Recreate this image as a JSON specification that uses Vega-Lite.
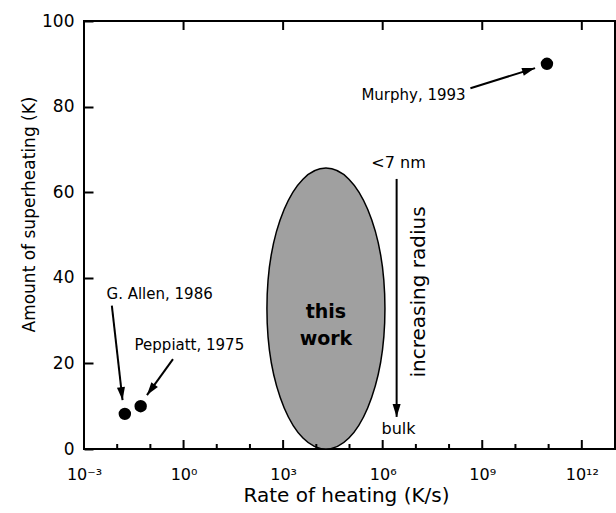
{
  "$schema": "https://vega.github.io/schema/vega-lite/v6.json",
  "width": 531,
  "height": 428,
  "autosize": {"type": "none"},
  "padding": {"left": 84, "top": 21, "right": 1, "bottom": 64},
  "background": "white",
  "config": {
    "font": "DejaVu Sans",
    "view": {"stroke": "black", "strokeWidth": 2},
    "axis": {
      "domain": false,
      "grid": false,
      "labelColor": "black",
      "titleColor": "black",
      "tickColor": "black",
      "tickWidth": 2,
      "labelFont": "DejaVu Sans",
      "titleFont": "DejaVu Sans",
      "titleFontWeight": "normal",
      "labelFlush": false
    }
  },
  "datasets": {
    "region": [{"rate": 19500, "superheat": 32.8}],
    "studies": [
      {"study": "G. Allen, 1986", "rate": 0.017, "superheat": 8.2},
      {"study": "Peppiatt, 1975", "rate": 0.051, "superheat": 10.0},
      {"study": "Murphy, 1993", "rate": 8.9e10, "superheat": 90.0}
    ],
    "majorTicks": [
      {"rate": 1}, {"rate": 1000}, {"rate": 1000000}, {"rate": 1000000000}, {"rate": 1000000000000}
    ],
    "minorTicks": [
      {"rate": 0.01}, {"rate": 0.1}, {"rate": 10}, {"rate": 100}, {"rate": 10000}, {"rate": 100000},
      {"rate": 10000000}, {"rate": 100000000}, {"rate": 10000000000}, {"rate": 100000000000}
    ],
    "arrows": [
      {"name": "Murphy", "rate": 4.4e8, "superheat": 84.3, "rate2": 3.9e10, "superheat2": 89.0},
      {"name": "Allen", "rate": 0.0069, "superheat": 33.5, "rate2": 0.0145, "superheat2": 11.4},
      {"name": "Peppiatt", "rate": 0.48, "superheat": 21.0, "rate2": 0.079, "superheat2": 12.6},
      {"name": "radius", "rate": 2.63e6, "superheat": 63.1, "rate2": 2.63e6, "superheat2": 7.5}
    ],
    "citations": [
      {"text": "Murphy, 1993", "rate": 8.5e6, "superheat": 82.7},
      {"text": "G. Allen, 1986", "rate": 0.19, "superheat": 36.2},
      {"text": "Peppiatt, 1975", "rate": 1.5, "superheat": 24.3}
    ],
    "notes": [
      {"text": "<7 nm", "rate": 3.0e6, "superheat": 66.8},
      {"text": "bulk", "rate": 3.0e6, "superheat": 4.7}
    ],
    "vertical": [{"text": "increasing radius", "rate": 1.2e7, "superheat": 36.7}],
    "bold": [{"text": "this work", "rate": 19500, "superheat": 32.1}]
  },
  "resolve": {"axis": {"x": "independent", "y": "independent"}},
  "layer": [
    {
      "data": {"name": "region"},
      "mark": {
        "type": "point",
        "shape": "M 0 -1 C 0.232 -1 0.42 -0.552 0.42 0 C 0.42 0.552 0.232 1 0 1 C -0.232 1 -0.42 0.552 -0.42 0 C -0.42 -0.552 -0.232 -1 0 -1 Z",
        "filled": true,
        "fill": "#a0a0a0",
        "stroke": "black",
        "strokeWidth": 1.5,
        "size": 78961,
        "opacity": 1
      },
      "encoding": {
        "x": {
          "field": "rate",
          "type": "quantitative",
          "scale": {"type": "log", "domain": [0.001, 1e13], "nice": false},
          "axis": {
            "orient": "bottom",
            "values": [0.001, 1, 1000, 1000000, 1000000000, 1000000000000],
            "ticks": false,
            "labelPadding": 17,
            "labelFontSize": 16,
            "labelExpr": "datum.value < 0.01 ? '10⁻³' : datum.value < 10 ? '10⁰' : datum.value < 10000 ? '10³' : datum.value < 10000000 ? '10⁶' : datum.value < 10000000000 ? '10⁹' : '10¹²'",
            "title": "Rate of heating (K/s)",
            "titleFontSize": 20,
            "titleX": 262,
            "titleY": 36,
            "titleBaseline": "top"
          }
        },
        "y": {
          "field": "superheat",
          "type": "quantitative",
          "scale": {"domain": [0, 100], "nice": false},
          "axis": {
            "orient": "left",
            "offset": -9,
            "values": [0, 20, 40, 60, 80, 100],
            "tickSize": 9,
            "tickColor": "black",
            "labelPadding": 10,
            "labelFontSize": 17,
            "title": "Amount of superheating (K)",
            "titleFontSize": 17,
            "titleX": -55,
            "titleY": 193,
            "titleBaseline": "bottom",
            "zindex": 1
          }
        }
      }
    },
    {
      "data": {"name": "studies"},
      "mark": {"type": "point", "shape": "circle", "filled": true, "color": "black", "size": 154, "opacity": 1},
      "encoding": {
        "x": {"field": "rate", "type": "quantitative", "axis": null},
        "y": {"field": "superheat", "type": "quantitative", "axis": null}
      }
    },
    {
      "data": {"name": "arrows"},
      "mark": {"type": "rule", "color": "black", "strokeWidth": 2},
      "encoding": {
        "x": {"field": "rate", "type": "quantitative", "axis": null},
        "y": {"field": "superheat", "type": "quantitative", "axis": null},
        "x2": {"field": "rate2"},
        "y2": {"field": "superheat2"}
      }
    },
    {
      "data": {"name": "arrows"},
      "transform": [{"filter": "datum.name === 'Murphy'"}],
      "mark": {"type": "point", "shape": "M 0 0 L -1 -0.31 L -1 0.31 Z", "filled": true, "color": "black", "size": 676, "opacity": 1, "angle": 343},
      "encoding": {
        "x": {"field": "rate2", "type": "quantitative", "axis": null},
        "y": {"field": "superheat2", "type": "quantitative", "axis": null}
      }
    },
    {
      "data": {"name": "arrows"},
      "transform": [{"filter": "datum.name === 'Allen'"}],
      "mark": {"type": "point", "shape": "M 0 0 L -1 -0.31 L -1 0.31 Z", "filled": true, "color": "black", "size": 676, "opacity": 1, "angle": 83},
      "encoding": {
        "x": {"field": "rate2", "type": "quantitative", "axis": null},
        "y": {"field": "superheat2", "type": "quantitative", "axis": null}
      }
    },
    {
      "data": {"name": "arrows"},
      "transform": [{"filter": "datum.name === 'Peppiatt'"}],
      "mark": {"type": "point", "shape": "M 0 0 L -1 -0.31 L -1 0.31 Z", "filled": true, "color": "black", "size": 676, "opacity": 1, "angle": 126},
      "encoding": {
        "x": {"field": "rate2", "type": "quantitative", "axis": null},
        "y": {"field": "superheat2", "type": "quantitative", "axis": null}
      }
    },
    {
      "data": {"name": "arrows"},
      "transform": [{"filter": "datum.name === 'radius'"}],
      "mark": {"type": "point", "shape": "M 0 0 L -1 -0.31 L -1 0.31 Z", "filled": true, "color": "black", "size": 676, "opacity": 1, "angle": 90},
      "encoding": {
        "x": {"field": "rate2", "type": "quantitative", "axis": null},
        "y": {"field": "superheat2", "type": "quantitative", "axis": null}
      }
    },
    {
      "data": {"name": "citations"},
      "mark": {"type": "text", "fontSize": 15, "color": "black", "align": "center", "baseline": "middle"},
      "encoding": {
        "x": {"field": "rate", "type": "quantitative", "axis": null},
        "y": {"field": "superheat", "type": "quantitative", "axis": null},
        "text": {"field": "text"}
      }
    },
    {
      "data": {"name": "notes"},
      "mark": {"type": "text", "fontSize": 16, "color": "black", "align": "center", "baseline": "middle"},
      "encoding": {
        "x": {"field": "rate", "type": "quantitative", "axis": null},
        "y": {"field": "superheat", "type": "quantitative", "axis": null},
        "text": {"field": "text"}
      }
    },
    {
      "data": {"name": "vertical"},
      "mark": {"type": "text", "fontSize": 20, "color": "black", "align": "center", "baseline": "middle", "angle": 270},
      "encoding": {
        "x": {"field": "rate", "type": "quantitative", "axis": null},
        "y": {"field": "superheat", "type": "quantitative", "axis": null},
        "text": {"field": "text"}
      }
    },
    {
      "data": {"name": "bold"},
      "mark": {"type": "text", "fontSize": 19, "fontWeight": "bold", "color": "black", "align": "center", "baseline": "middle", "lineBreak": " ", "lineHeight": 27},
      "encoding": {
        "x": {"field": "rate", "type": "quantitative", "axis": null},
        "y": {"field": "superheat", "type": "quantitative", "axis": null},
        "text": {"field": "text"}
      }
    },
    {
      "data": {"name": "majorTicks"},
      "mark": {"type": "rule", "color": "black", "strokeWidth": 2, "y2Offset": -9},
      "encoding": {
        "x": {"field": "rate", "type": "quantitative", "axis": null},
        "y": {"datum": 0, "type": "quantitative", "axis": null},
        "y2": {"datum": 0}
      }
    },
    {
      "data": {"name": "majorTicks"},
      "mark": {"type": "rule", "color": "black", "strokeWidth": 2, "y2Offset": 9},
      "encoding": {
        "x": {"field": "rate", "type": "quantitative", "axis": null},
        "y": {"datum": 100, "type": "quantitative", "axis": null},
        "y2": {"datum": 100}
      }
    },
    {
      "data": {"name": "minorTicks"},
      "mark": {"type": "rule", "color": "black", "strokeWidth": 2, "y2Offset": -5},
      "encoding": {
        "x": {"field": "rate", "type": "quantitative", "axis": null},
        "y": {"datum": 0, "type": "quantitative", "axis": null},
        "y2": {"datum": 0}
      }
    }
  ]
}
